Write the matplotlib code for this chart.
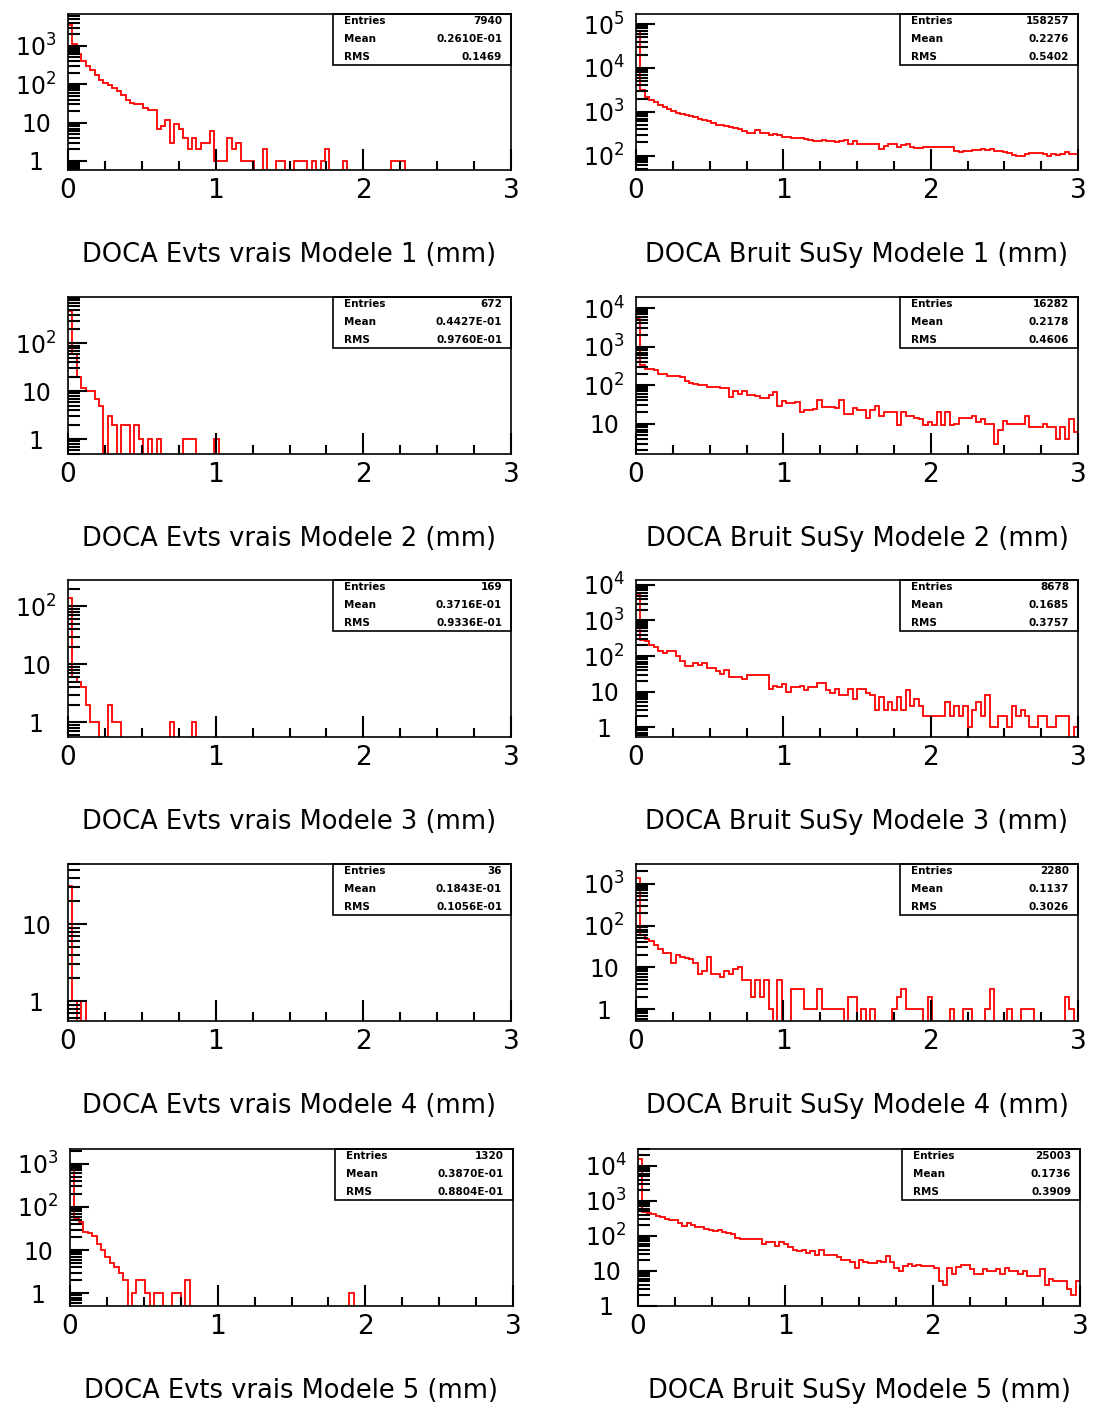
import numpy as np
import matplotlib
matplotlib.use('Agg')
import matplotlib.pyplot as plt
from matplotlib.ticker import FixedLocator, MultipleLocator, NullFormatter

# 100 bins of 0.03 mm between 0 and 3 mm
edges = np.linspace(0.0, 3.0, 101)

# bin contents (vrais = left column, bruit = right column)
vrais_1 = [3500, 1100, 600, 400, 300, 230, 170, 130, 110, 95,
           80, 65, 52, 40, 33, 30, 30, 24, 21, 21,
           7, 8, 12, 3, 9, 7, 4, 2, 4, 2,
           3, 3, 6, 1, 1, 1, 4, 2, 3, 1,
           1, 1, 0, 0, 2, 0, 0, 1, 1, 0,
           0, 1, 1, 1, 0, 1, 0, 1, 2, 0,
           0, 0, 1, 0, 0, 0, 0, 0, 0, 0,
           0, 0, 0, 1, 1, 1, 0, 0, 0, 0,
           0, 0, 0, 0, 0, 0, 0, 0, 0, 0,
           0, 0, 0, 0, 0, 0, 0, 0, 0, 0]
bruit_1 = [70000, 3100, 2200, 1900, 1700, 1450, 1300, 1150, 1050, 950,
           880, 820, 780, 740, 700, 660, 600, 560, 500, 500,
           480, 450, 420, 400, 360, 330, 330, 380, 330, 320,
           290, 310, 290, 270, 270, 250, 250, 250, 240, 230,
           220, 210, 230, 210, 210, 200, 210, 230, 185, 215,
           185, 185, 185, 185, 185, 140, 165, 185, 180, 160,
           175, 180, 160, 150, 150, 155, 155, 155, 155, 155,
           160, 155, 130, 120, 130, 130, 135, 135, 140, 135,
           140, 130, 125, 120, 115, 105, 100, 100, 110, 115,
           115, 115, 110, 100, 110, 105, 110, 120, 110, 110]
vrais_2 = [470, 60, 20, 12, 10, 10, 7, 5, 0, 3,
           2, 0, 2, 2, 0, 2, 1, 0, 1, 0,
           1, 0, 0, 0, 0, 0, 1, 1, 1, 0,
           0, 0, 0, 1, 0, 0, 0, 0, 0, 0,
           0, 0, 0, 0, 0, 0, 0, 0, 0, 0,
           0, 0, 0, 0, 0, 0, 0, 0, 0, 0,
           0, 0, 0, 0, 0, 0, 0, 0, 0, 0,
           0, 0, 0, 0, 0, 0, 0, 0, 0, 0,
           0, 0, 0, 0, 0, 0, 0, 0, 0, 0,
           0, 0, 0, 0, 0, 0, 0, 0, 0, 0]
bruit_2 = [5200, 325, 265, 265, 240, 200, 200, 170, 170, 170,
           165, 125, 115, 105, 100, 100, 92, 92, 92, 85,
           85, 50, 72, 58, 72, 56, 54, 52, 46, 46,
           55, 66, 28, 38, 34, 34, 36, 20, 23, 23,
           24, 40, 27, 27, 27, 26, 40, 18, 18, 25,
           22, 22, 14, 22, 28, 16, 20, 20, 20, 9,
           20, 16, 16, 14, 13, 9, 11, 9, 20, 9,
           20, 9, 10, 14, 14, 14, 16, 11, 13, 10,
           10, 3, 7, 12, 10, 10, 10, 10, 16, 8,
           8, 8, 10, 8, 8, 4, 8, 4, 13, 6]
vrais_3 = [140, 6, 5, 4, 2, 1, 1, 0, 0, 2,
           1, 1, 0, 0, 0, 0, 0, 0, 0, 0,
           0, 0, 0, 1, 0, 0, 0, 0, 1, 0,
           0, 0, 0, 0, 0, 0, 0, 0, 0, 0,
           0, 0, 0, 0, 0, 0, 0, 0, 0, 0,
           0, 0, 0, 0, 0, 0, 0, 0, 0, 0,
           0, 0, 0, 0, 0, 0, 0, 0, 0, 0,
           0, 0, 0, 0, 0, 0, 0, 0, 0, 0,
           0, 0, 0, 0, 0, 0, 0, 0, 0, 0,
           0, 0, 0, 0, 0, 0, 0, 0, 0, 0]
bruit_3 = [5200, 290, 257, 208, 175, 135, 121, 135, 135, 98,
           71, 51, 51, 63, 57, 63, 46, 46, 37, 31,
           41, 25, 25, 25, 22, 29, 29, 29, 29, 29,
           12, 14, 13, 16, 10, 13, 13, 14, 11, 13,
           13, 17, 17, 11, 9, 12, 8, 8, 12, 6,
           12, 12, 9, 8, 3, 7, 3, 5, 3, 7,
           3, 11, 4, 6, 4, 2, 2, 2, 2, 2,
           5, 2, 4, 2, 4, 1, 3, 5, 2, 8,
           1, 1, 2, 2, 1, 4, 2, 3, 2, 1,
           1, 2, 2, 1, 1, 2, 2, 2, 0, 1]
vrais_4 = [31, 1, 0, 1, 0, 0, 0, 0, 0, 0,
           0, 0, 0, 0, 0, 0, 0, 0, 0, 0,
           0, 0, 0, 0, 0, 0, 0, 0, 0, 0,
           0, 0, 0, 0, 0, 0, 0, 0, 0, 0,
           0, 0, 0, 0, 0, 0, 0, 0, 0, 0,
           0, 0, 0, 0, 0, 0, 0, 0, 0, 0,
           0, 0, 0, 0, 0, 0, 0, 0, 0, 0,
           0, 0, 0, 0, 0, 0, 0, 0, 0, 0,
           0, 0, 0, 0, 0, 0, 0, 0, 0, 0,
           0, 0, 0, 0, 0, 0, 0, 0, 0, 0]
bruit_4 = [1400, 59, 49, 42, 34, 28, 22, 22, 13, 20,
           18, 17, 16, 13, 7, 8, 18, 7, 7, 6,
           8, 7, 9, 10, 5, 5, 2, 5, 2, 5,
           1, 0, 5, 0, 0, 3, 3, 3, 1, 1,
           1, 3, 1, 1, 1, 1, 1, 0, 2, 2,
           0, 1, 0, 1, 0, 0, 0, 0, 1, 2,
           3, 1, 1, 1, 1, 0, 2, 0, 0, 0,
           0, 1, 0, 0, 1, 1, 0, 0, 0, 1,
           3, 0, 0, 0, 1, 0, 0, 1, 1, 1,
           0, 0, 0, 0, 0, 0, 0, 2, 1, 0]
vrais_5 = [1000, 55, 46, 27, 25, 21, 14, 10, 7, 5,
           4, 3, 2, 0, 1, 2, 2, 1, 0, 1,
           1, 0, 0, 1, 1, 0, 2, 0, 0, 0,
           0, 0, 0, 0, 0, 0, 0, 0, 0, 0,
           0, 0, 0, 0, 0, 0, 0, 0, 0, 0,
           0, 0, 0, 0, 0, 0, 0, 0, 0, 0,
           0, 0, 0, 1, 0, 0, 0, 0, 0, 0,
           0, 0, 0, 0, 0, 0, 0, 0, 0, 0,
           0, 0, 0, 0, 0, 0, 0, 0, 0, 0,
           0, 0, 0, 0, 0, 0, 0, 0, 0, 0]
bruit_5 = [16000, 490, 460, 420, 370, 335, 295, 290, 280, 230,
           192, 230, 205, 180, 175, 160, 150, 140, 145, 125,
           120, 110, 86, 82, 80, 80, 80, 80, 60, 68,
           68, 52, 68, 60, 48, 40, 38, 40, 33, 37,
           29, 40, 29, 29, 29, 25, 20, 20, 18, 12,
           21, 18, 17, 17, 19, 18, 26, 18, 12, 10,
           14, 16, 14, 15, 14, 14, 14, 12, 5, 4,
           12, 8, 13, 15, 15, 11, 8, 8, 11, 10,
           10, 11, 8, 12, 10, 10, 8, 10, 7, 7,
           7, 11, 4, 6, 5, 5, 5, 3, 2, 5]

vrais = [vrais_1, vrais_2, vrais_3, vrais_4, vrais_5]
bruit = [bruit_1, bruit_2, bruit_3, bruit_4, bruit_5]

# statistics boxes: entries, mean, rms
vrais_stats = [("7940", "0.2610E-01", "0.1469"),
               ("672", "0.4427E-01", "0.9760E-01"),
               ("169", "0.3716E-01", "0.9336E-01"),
               ("36", "0.1843E-01", "0.1056E-01"),
               ("1320", "0.3870E-01", "0.8804E-01")]
bruit_stats = [("158257", "0.2276", "0.5402"),
               ("16282", "0.2178", "0.4606"),
               ("8678", "0.1685", "0.3757"),
               ("2280", "0.1137", "0.3026"),
               ("25003", "0.1736", "0.3909")]

# log10 of the y range of each panel
vrais_ylog = [(-0.235, 3.83), (-0.31, 2.97), (-0.25, 2.45), (-0.257, 1.78), (-0.29, 3.34)]
bruit_ylog = [(1.67, 5.23), (0.21, 4.29), (-0.28, 4.14), (-0.28, 3.47), (-0.005, 4.48)]

W, H = 1101, 1409
rows_px = [(14, 170), (297, 454), (580, 737), (864, 1021), (1149, 1306)]


def ylab(v):
    n = int(round(np.log10(v)))
    if n == 0:
        return "1"
    if n == 1:
        return "10"
    return r"$10^{%d}$" % n


def draw_panel(fig, rect, counts, ylog, stats, title):
    ax = fig.add_axes(rect)
    c = np.asarray(counts, dtype=float)
    c = np.where(c > 0, c, 1e-3)  # empty bins drop to the bottom of the frame
    ax.stairs(c, edges, color='red', lw=1.3, baseline=None)
    ax.set_yscale('log')
    ax.set_xlim(0, 3)
    ax.set_ylim(10 ** ylog[0], 10 ** ylog[1])

    decades = [10.0 ** k for k in range(-1, 7)]
    ax.yaxis.set_major_locator(FixedLocator(decades))
    minors = [m * 10.0 ** k for k in range(-1, 7) for m in range(2, 10)]
    ax.yaxis.set_minor_locator(FixedLocator(minors))
    ax.yaxis.set_minor_formatter(NullFormatter())
    ax.set_yticklabels([ylab(v) for v in decades])
    ax.xaxis.set_major_locator(FixedLocator([0, 1, 2, 3]))
    ax.xaxis.set_minor_locator(MultipleLocator(0.25))
    ax.set_xticklabels(["0", "1", "2", "3"])

    ax.tick_params(which='both', direction='in', top=False, right=False, width=1.5)
    ax.tick_params(axis='x', which='major', length=15, pad=6, labelsize=19)
    ax.tick_params(axis='x', which='minor', length=6.5)
    ax.tick_params(axis='y', which='major', length=14, pad=23, labelsize=17)
    ax.tick_params(axis='y', which='minor', length=8.5)
    for lab in ax.get_yticklabels():
        lab.set_horizontalalignment('center')
    for sp in ax.spines.values():
        sp.set_linewidth(1.2)

    # statistics box in the upper right corner
    ax.add_patch(plt.Rectangle((0.598, 0.673), 0.402, 0.327, transform=ax.transAxes,
                               fill=False, lw=1.2, clip_on=False))
    for i, (name, val) in enumerate(zip(["Entries", "Mean", "RMS"], stats)):
        yy = 0.953 - i * 0.115
        ax.text(0.622, yy, name, transform=ax.transAxes, fontsize=7.5,
                fontweight='bold', va='center', ha='left')
        ax.text(0.98, yy, val, transform=ax.transAxes, fontsize=7.5,
                fontweight='bold', va='center', ha='right')

    fig.text(rect[0] + rect[2] / 2, rect[1] - 85 / H, title, fontsize=18.5,
             ha='center', va='center')
    return ax


fig = plt.figure(figsize=(W / 100, H / 100), dpi=100)
for r, (top, bot) in enumerate(rows_px):
    shift = 2 if r == 4 else 0
    yb = 1 - bot / H
    hh = (bot - top) / H
    draw_panel(fig, [(68 + shift) / W, yb, 443 / W, hh], vrais[r], vrais_ylog[r],
               vrais_stats[r], "DOCA Evts vrais Modele %d (mm)" % (r + 1))
    draw_panel(fig, [(636 + shift) / W, yb, 442 / W, hh], bruit[r], bruit_ylog[r],
               bruit_stats[r], "DOCA Bruit SuSy Modele %d (mm)" % (r + 1))

fig.savefig("out.png", dpi=100)
